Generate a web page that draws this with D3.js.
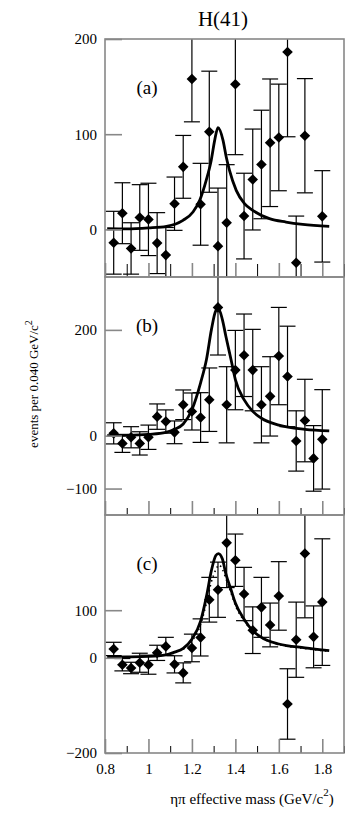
<!DOCTYPE html>
<html>
<head>
<meta charset="utf-8">
<script src="https://cdn.jsdelivr.net/npm/d3@7"></script>
<style>
  body { margin: 0; background: #fff; }
  text { font-family: "Liberation Serif", "Times New Roman", serif; fill: #000; }
</style>
</head>
<body>
<svg id="chart" width="346" height="819"></svg>
<script>
// eta-pi mass bins (GeV/c^2), 0.040 wide
const massBins = [0.84, 0.88, 0.92, 0.96, 1.00, 1.04, 1.08, 1.12, 1.16, 1.20, 1.24, 1.28, 1.32,
                  1.36, 1.40, 1.44, 1.48, 1.52, 1.56, 1.60, 1.64, 1.68, 1.72, 1.76, 1.80];

// panel (a) -- no entry at 1.76
const valuesA = [-14, 17, -20, 12.5, 10.5, -14.4, -27, 27, 65.7, 158, 26.4, 102.6, -17.6,
                 7, 152.5, 14, 52.4, 68.2, 91, 96.6, 186.3, -35, 98.4, null, 13.7];
const errorsA = [33, 32, 27, 34.5, 38, 32, 29, 28, 33, 45, 43, 63.6, 61,
                 61, 74, 45, 53, 57, 67, 56, 89, 49, 60, null, 48];

// panel (b)
const valuesB = [4.4, -14.6, -3, -14.6, -3, 36, 26.7, 6.3, 58.4, 45.7, 34.3, 68, 242.5,
                 58.4, 124, 152, 124, 58.4, 74.3, 150.5, 112, -10, 28.6, -43, -7];
const errorsB = [20, 17, 20, 22, 23, 24, 22, 21.5, 28, 35, 47, 60, 90,
                 72, 75, 78, 77, 72, 75, 92, 95, 57, 78, 62, 94];

// panel (c)
const valuesC = [18.6, -14.5, -21.4, -10.4, -14.5, 10.4, 24, -13.8, -31.7, 20.7, 42.8, 122, 143,
                 241.5, 205, 134, 58, 106, 69, 130, -97, 38, 219, 44, 117];
const errorsC = [14, 13, 12, 20, 20, 16, 19, 18, 21, 29, 39, 47, 58,
                 94, 55, 56, 49, 63, 46, 72, 74, 79, 135, 65, 133];

// fitted curves: [mass, events]
const fitA = [[0.81, 0.7], [0.90, 0.5], [1.00, 1.5], [1.083, 3.2], [1.159, 9.5], [1.205, 18.3],
              [1.236, 30.6], [1.266, 51.7], [1.289, 72.7], [1.305, 93.8], [1.32, 107],
              [1.343, 93.8], [1.358, 76], [1.373, 62], [1.404, 41], [1.442, 27], [1.48, 20],
              [1.557, 11.3], [1.633, 7.7], [1.71, 5.3], [1.832, 3.2]];
const fitB = [[0.81, 0], [0.90, 0.5], [1.00, 2.5], [1.08, 6.3], [1.12, 12], [1.16, 22], [1.20, 49],
              [1.24, 100], [1.267, 144], [1.29, 201], [1.31, 236], [1.322, 240], [1.34, 220],
              [1.356, 188.6], [1.38, 144], [1.40, 106], [1.44, 68], [1.48, 46], [1.52, 33],
              [1.60, 20], [1.72, 12], [1.832, 9]];
const fitC = [[0.81, 1.4], [0.90, 1.8], [1.00, 2.8], [1.08, 6], [1.12, 12], [1.16, 20], [1.20, 39],
              [1.24, 77], [1.267, 129], [1.29, 184], [1.31, 215], [1.322, 219], [1.34, 208],
              [1.356, 177], [1.38, 143], [1.40, 115], [1.44, 81], [1.48, 57], [1.52, 43],
              [1.60, 29], [1.72, 21], [1.832, 15]];
const fitC2 = [[1.16, 18], [1.20, 35], [1.24, 70], [1.267, 115], [1.29, 160], [1.31, 185],
               [1.325, 195], [1.34, 186], [1.36, 162], [1.38, 136], [1.40, 110], [1.44, 78],
               [1.48, 55], [1.52, 42], [1.60, 28], [1.72, 19.5], [1.832, 13.5]];

const yTicksA = [0, 100, 200];
const yTicksB = [-100, 0, 200];
const yTicksC = [-200, 0, 100];
const xMajor = [0.8, 1.0, 1.2, 1.4, 1.6, 1.8];
const xMinor = [0.9, 1.1, 1.3, 1.5, 1.7, 1.9];
const xLabels = ["0.8", "1", "1.2", "1.4", "1.6", "1.8"];

const svg = d3.select("#chart");
const left = 105, right = 344;
const x = d3.scaleLinear().domain([0.8, 1.9]).range([left, right]);

const panels = [
  { id: "a", label: "(a)", top: 39, bottom: 277, domain: [-50, 200], ticks: yTicksA,
    values: valuesA, errors: errorsA, fit: fitA, minorLen: 13 },
  { id: "b", label: "(b)", top: 277, bottom: 515, domain: [-150, 300], ticks: yTicksB,
    values: valuesB, errors: errorsB, fit: fitB, minorLen: 7 },
  { id: "c", label: "(c)", top: 515, bottom: 753, domain: [-200, 300], ticks: yTicksC,
    values: valuesC, errors: errorsC, fit: fitC, fit2: fitC2, minorLen: 7 }
];

const GRAY = "#888";

panels.forEach((p, i) => {
  var y = d3.scaleLinear().domain(p.domain).range([p.bottom, p.top]);

  svg.append("clipPath").attr("id", `clip-${p.id}`)
    .append("rect")
    .attr("x", left).attr("y", p.top)
    .attr("width", right - left).attr("height", p.bottom - p.top);

  var g = svg.append("g").attr("class", `panel-${p.id}`);
  var plot = g.append("g").attr("clip-path", `url(#clip-${p.id})`);

  var points = massBins
    .map((m, k) => ({ m, v: p.values[k], e: p.errors[k] }))
    .filter(d => d.v !== null);

  // error bars
  var bars = plot.append("g").attr("stroke", "#000").attr("stroke-width", 1.2);
  bars.selectAll("line.bar").data(points).join("line")
    .attr("class", "bar")
    .attr("x1", d => x(d.m)).attr("x2", d => x(d.m))
    .attr("y1", d => y(d.v + d.e)).attr("y2", d => y(d.v - d.e));
  bars.selectAll("line.cap-hi").data(points).join("line")
    .attr("class", "cap-hi")
    .attr("x1", d => x(d.m) - 8).attr("x2", d => x(d.m) + 8)
    .attr("y1", d => y(d.v + d.e)).attr("y2", d => y(d.v + d.e));
  bars.selectAll("line.cap-lo").data(points).join("line")
    .attr("class", "cap-lo")
    .attr("x1", d => x(d.m) - 8).attr("x2", d => x(d.m) + 8)
    .attr("y1", d => y(d.v - d.e)).attr("y2", d => y(d.v - d.e));

  // fits
  var line = d3.line().x(d => x(d[0])).y(d => y(d[1])).curve(d3.curveMonotoneX);
  if (p.fit2) {
    plot.append("path").datum(p.fit2)
      .attr("fill", "none").attr("stroke", "#000")
      .attr("stroke-width", 1.6).attr("stroke-dasharray", "1.5,3.5")
      .attr("d", line);
  }
  plot.append("path").datum(p.fit)
    .attr("fill", "none").attr("stroke", "#000").attr("stroke-width", 2.8)
    .attr("d", line);

  // diamonds
  plot.selectAll("path.pt").data(points).join("path")
    .attr("class", "pt")
    .attr("d", d3.symbol(d3.symbolSquare, 56))
    .attr("transform", d => `translate(${x(d.m)},${y(d.v)}) rotate(45)`)
    .attr("fill", "#000");

  // y axis
  var yAxis = g.append("g")
    .attr("transform", `translate(${left},0)`)
    .call(d3.axisLeft(y).tickValues(p.ticks).tickSize(-17).tickPadding(8).tickFormat(d3.format("d")));
  yAxis.select(".domain").remove();
  yAxis.selectAll(".tick line").attr("stroke", GRAY).attr("stroke-width", 1.6);
  yAxis.selectAll(".tick text")
    .style("font-family", '"Liberation Serif", serif').style("font-size", "15px");

  // x ticks along the bottom of every panel
  var xMaj = g.append("g")
    .attr("transform", `translate(0,${p.bottom})`)
    .call(d3.axisBottom(x).tickValues(xMajor).tickSize(-14)
      .tickFormat(i === panels.length - 1 ? (d, k) => xLabels[k] : ""));
  xMaj.select(".domain").remove();
  xMaj.selectAll(".tick line").attr("stroke", GRAY).attr("stroke-width", 1.6);
  xMaj.selectAll(".tick text")
    .attr("y", 10)
    .style("font-family", '"Liberation Serif", serif').style("font-size", "15px");

  var xMin = g.append("g")
    .attr("transform", `translate(0,${p.bottom})`)
    .call(d3.axisBottom(x).tickValues(xMinor).tickSize(-p.minorLen).tickFormat(""));
  xMin.select(".domain").remove();
  xMin.selectAll(".tick line").attr("stroke", "#000").attr("stroke-width", 1);

  // frame
  g.append("rect")
    .attr("x", left).attr("y", p.top)
    .attr("width", right - left).attr("height", p.bottom - p.top)
    .attr("fill", "none").attr("stroke", GRAY).attr("stroke-width", 1.6);

  g.append("text")
    .attr("x", 147).attr("y", p.top + 55)
    .attr("text-anchor", "middle")
    .style("font-size", "19px")
    .text(p.label);
});

svg.append("text")
  .attr("x", 223).attr("y", 26)
  .attr("text-anchor", "middle")
  .style("font-size", "21px")
  .text("H(41)");

var yTitle = svg.append("text")
  .attr("transform", "translate(38,384) rotate(-90)")
  .attr("text-anchor", "middle")
  .style("font-size", "13px");
yTitle.append("tspan").text("events per 0.040 GeV/c");
yTitle.append("tspan").attr("dy", -6).style("font-size", "10px").text("2");

var xTitle = svg.append("text")
  .attr("x", 252).attr("y", 804)
  .attr("text-anchor", "middle")
  .style("font-size", "15px");
xTitle.append("tspan").text("\u03b7\u03c0 effective mass (GeV/c");
xTitle.append("tspan").attr("dy", -8).style("font-size", "11px").text("2");
xTitle.append("tspan").attr("dy", 8).text(")");
</script>
</body>
</html>
